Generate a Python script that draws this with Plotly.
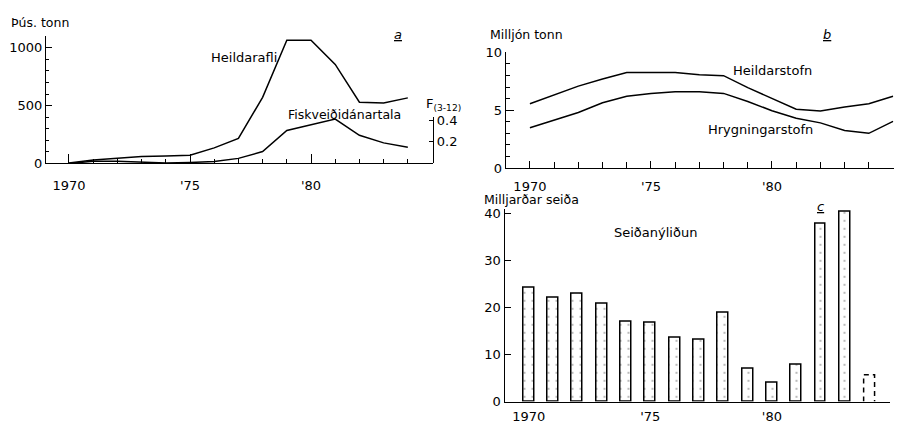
import plotly.graph_objects as go

# ---------- data ----------
years_a = list(range(1970, 1985))
catch_kt = [5, 30, 45, 60, 65, 72, 135, 217, 572, 1065, 1065, 856, 530, 522, 567]
fishing_mortality = [0.0, 0.02, 0.02, 0.015, 0.005, 0.01, 0.018, 0.047, 0.11, 0.305, 0.36, 0.41, 0.26, 0.19, 0.15]

years_b = list(range(1970, 1986))
total_stock = [5.56, 6.3, 7.08, 7.7, 8.25, 8.25, 8.25, 8.06, 7.98, 6.95, 5.98, 5.08, 4.92, 5.28, 5.56, 6.2]
spawning_stock = [3.48, 4.15, 4.8, 5.64, 6.2, 6.45, 6.6, 6.6, 6.45, 5.75, 4.95, 4.3, 3.9, 3.25, 3.0, 4.03]

years_c = list(range(1970, 1984))
recruitment = [24.3, 22.1, 23.0, 20.9, 17.0, 16.8, 13.6, 13.2, 18.8, 7.0, 4.0, 7.8, 37.9, 40.3]
year_prelim = 1984
recruitment_prelim = 5.7

xtick_vals_a = [1970, 1975, 1980]
xtick_text_a = ["1970", "'75", "'80"]
xtick_vals_b = [1970, 1975, 1980, 1985]
xtick_text_b = ["1970", "'75", "'80", "'85"]

FONT = "DejaVu Sans"
# the page body has an 8px margin; size the figure so it fills the 902x426 window
OFF = 8
W, H = 902 - OFF, 426 - OFF


def px(x):
    return (x - OFF) / W


def py(y):
    return 1 - (y - OFF) / H


fig = go.Figure()

line = dict(color="black", width=1.5)

# panel a
fig.add_trace(go.Scatter(x=years_a, y=catch_kt, mode="lines", line=line,
                         xaxis="x", yaxis="y", showlegend=False))
fig.add_trace(go.Scatter(x=years_a, y=fishing_mortality, mode="lines", line=line,
                         xaxis="x", yaxis="y2", showlegend=False))
# panel b
fig.add_trace(go.Scatter(x=years_b, y=total_stock, mode="lines", line=line,
                         xaxis="x3", yaxis="y3", showlegend=False))
fig.add_trace(go.Scatter(x=years_b, y=spawning_stock, mode="lines", line=line,
                         xaxis="x3", yaxis="y3", showlegend=False))
# panel c
bw = 0.45
fig.add_trace(go.Bar(x=years_c, y=recruitment, width=bw,
                     marker=dict(color="white",
                                 line=dict(color="black", width=1.5),
                                 pattern=dict(shape=".", fgcolor="#555", bgcolor="white",
                                              size=8, solidity=0.06)),
                     xaxis="x4", yaxis="y4", showlegend=False))
fig.add_trace(go.Scatter(x=[year_prelim - bw / 2, year_prelim - bw / 2, year_prelim + bw / 2, year_prelim + bw / 2],
                         y=[0, recruitment_prelim, recruitment_prelim, 0],
                         mode="lines", line=dict(color="black", width=1.5, dash="5px,4px"),
                         xaxis="x4", yaxis="y4", showlegend=False))

tickfont = dict(family=FONT, size=13, color="black")
axcommon = dict(showline=True, linecolor="black", linewidth=1.3, showgrid=False,
                zeroline=False, tickfont=tickfont, ticks="inside", tickcolor="black",
                tickwidth=1.2, fixedrange=True)
minor_style = dict(ticks="inside", tickcolor="black", showgrid=False)

fig.update_layout(
    width=W, height=H, margin=dict(l=0, r=0, t=0, b=0),
    paper_bgcolor="white", plot_bgcolor="rgba(0,0,0,0)", bargap=0,
    font=dict(family=FONT, color="black"),
    xaxis=dict(domain=[px(46), px(433)], range=[1969.05, 1985.04], anchor="y",
               tickvals=xtick_vals_a, ticktext=xtick_text_a, ticklen=9,
               minor=dict(dtick=1, tick0=1970, ticklen=4, **minor_style),
               ticklabelstandoff=10, **axcommon),
    yaxis=dict(domain=[py(162), py(30)], range=[0, 1100], anchor="x",
               tickvals=[0, 500, 1000], ticklen=6,
               minor=dict(dtick=100, ticklen=3, **minor_style),
               ticklabelstandoff=0, **axcommon),
    yaxis2=dict(domain=[py(162), py(114)], range=[0, 0.4267], anchor="x", side="right",
                tickvals=[0.2, 0.4], ticktext=["0.2", "0.4"], ticklen=4,
                ticklabelstandoff=0, **axcommon),
    xaxis3=dict(domain=[px(505.7), px(894)], range=[1969.0, 1985.04], anchor="y3",
                tickvals=xtick_vals_b, ticktext=xtick_text_b, ticklen=7,
                minor=dict(dtick=1, tick0=1970, ticklen=6, **minor_style),
                ticklabelstandoff=6, **axcommon),
    yaxis3=dict(domain=[py(166.7), py(46.7)], range=[0, 10], anchor="x3",
                tickvals=[0, 5, 10], ticklen=8,
                minor=dict(dtick=1, ticklen=4, **minor_style),
                ticklabelstandoff=0, **axcommon),
    xaxis4=dict(domain=[px(504.5), px(890)], range=[1969.0, 1984.86], anchor="y4",
                tickvals=xtick_vals_a, ticktext=xtick_text_a, ticklen=0,
                ticklabelstandoff=3, **axcommon),
    yaxis4=dict(domain=[py(409), py(209)], range=[0, 41.0], anchor="x4",
                tickvals=[0, 10, 20, 30, 40], ticklen=6,
                ticklabelstandoff=0, **axcommon),
)


def note(text, x, y, size=13, anchor="left"):
    fig.add_annotation(text=text, x=px(x), y=py(y), xref="paper", yref="paper",
                       xanchor=anchor, yanchor="middle", showarrow=False,
                       font=dict(family=FONT, size=size, color="black"))


note("Þús. tonn", 9, 16, 12.5)
note("<i><u>a</u></i>", 398, 28, 13, "center")
note("Heildarafli", 209, 52)
note("Fiskveiðidánartala", 286, 111, 12.5)
note("F<sub>(3-12)</sub>", 424, 101, 13)
note("Milljón tonn", 488, 28, 12.5)
note("<i><u>b</u></i>", 827, 28, 13, "center")
note("Heildarstofn", 731, 66)
note("Hrygningarstofn", 706, 127)
note("Milljarðar seiða", 482, 199, 12.5)
note("<i><u>c</u></i>", 820, 207, 13, "center")
note("Seiðanýliðun", 612, 234)

fig.write_html("out.html")
